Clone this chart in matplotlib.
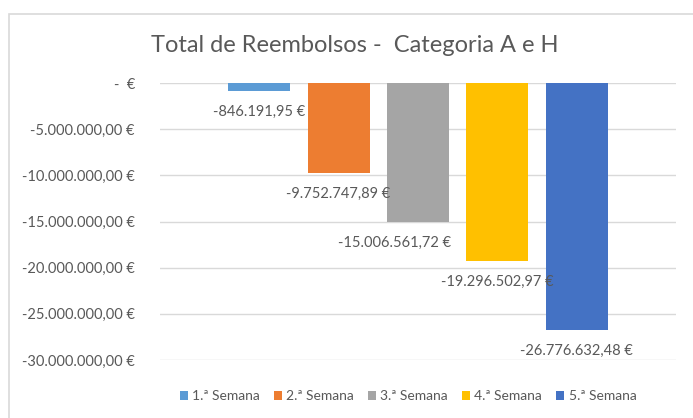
import matplotlib
matplotlib.use("Agg")
import matplotlib.pyplot as plt
from matplotlib.patches import Rectangle
from matplotlib.ticker import FuncFormatter, MultipleLocator

plt.rcParams['font.family'] = ['Lato', 'DejaVu Sans']

# data
semanas = ['1.ª Semana', '2.ª Semana', '3.ª Semana', '4.ª Semana', '5.ª Semana']
reembolsos = [-846191.95, -9752747.89, -15006561.72, -19296502.97, -26776632.48]
cores = ['#5B9BD5', '#ED7D31', '#A5A5A5', '#FFC000', '#4472C4']
titulo = 'Total de Reembolsos -  Categoria A e H'

# label shifts in pixels (x) - excel had the 3rd one moved left
label_dx = [0, 0, -23, 0, 0]

cinza = '#595959'


def euro(v, pos=None):
    if v == 0:
        return '-  €'
    s = '{:,.2f}'.format(abs(v))
    s = s.replace(',', 'X').replace('.', ',').replace('X', '.')
    sinal = '-' if v < 0 else ''
    return sinal + s + ' €'


fig = plt.figure(figsize=(6.93, 4.18), dpi=100)
ax = fig.add_axes([160 / 693, 1 - 360 / 418, (676 - 160) / 693, (360 - 83) / 418])

# outer chart border
fig.patches.append(Rectangle((9 / 693, -0.05), 1.1, 1 - 14 / 418 + 0.05,
                             transform=fig.transFigure, fill=False,
                             edgecolor='#D9D9D9', linewidth=1.2))

x = list(range(len(semanas)))
barras = ax.bar(x, reembolsos, width=0.78, color=cores, label=semanas, zorder=3)

for i, v in enumerate(reembolsos):
    ax.annotate(euro(v), xy=(x[i], v), xytext=(label_dx[i] * 0.72, -15),
                textcoords='offset points', ha='center', va='center',
                fontsize=10.5, color=cinza)

ax.set_xlim(-1.25, 5.25)
ax.set_ylim(-30000000, 0)
ax.yaxis.set_major_locator(MultipleLocator(5000000))
ax.yaxis.set_major_formatter(FuncFormatter(euro))
ax.set_xticks([])
ax.tick_params(axis='y', length=0, pad=18, labelsize=10.5, labelcolor=cinza)
ax.grid(axis='y', color='#D9D9D9', linewidth=1, zorder=0)
for s in ax.spines.values():
    s.set_visible(False)

fig.text(355 / 693, 1 - 45 / 418, titulo, ha='center', va='center',
         fontsize=17, color=cinza)

leg = fig.legend(handles=barras.patches, labels=semanas, loc='center',
                 bbox_to_anchor=(408 / 693, 1 - 396 / 418), ncol=5,
                 frameon=False, fontsize=10, handlelength=0.6, handleheight=0.6,
                 handletextpad=0.3, columnspacing=1.0)
for t in leg.get_texts():
    t.set_color(cinza)

fig.savefig('out.png', dpi=100)
